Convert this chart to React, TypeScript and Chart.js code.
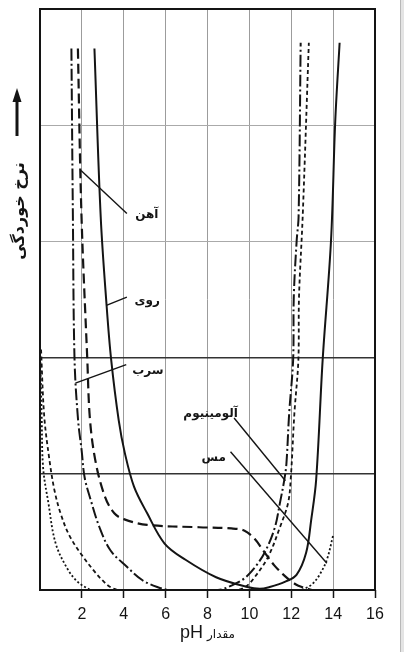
import React, { useEffect, useRef } from "react";
import { Chart, registerables } from "chart.js";

Chart.register(...registerables);

// pH axis ticks (0 is left unlabeled)
const phTicks = [0, 2, 4, 6, 8, 10, 12, 14, 16];

// corrosion rate curves (relative units, 0..5)
const zincPH = [2.6, 2.9, 3.18, 3.4, 3.76, 4.05, 4.49, 5.12, 5.95, 6.95, 8.41, 9.9, 10.5, 10.97, 11.69, 12.25, 12.71, 12.95, 13.19, 13.5, 13.9, 14.1, 14.31];
const zincRate = [4.66, 3.21, 2.45, 1.98, 1.46, 1.18, 0.89, 0.66, 0.4, 0.26, 0.11, 0.026, 0.01, 0.026, 0.07, 0.13, 0.32, 0.6, 0.95, 1.98, 3.01, 4.03, 4.71];

const ironPH = [1.81, 1.98, 2.26, 2.39, 2.67, 3.11, 3.55, 4.0, 5.12, 7.6, 9.14, 9.77, 10.25, 10.7, 11.2, 11.7, 12.2, 12.6, 13.0];
const ironRate = [4.66, 3.23, 1.98, 1.46, 1.09, 0.8, 0.66, 0.61, 0.56, 0.54, 0.53, 0.51, 0.44, 0.33, 0.21, 0.12, 0.05, 0.02, 0.0];

const leadPH = [1.5, 1.57, 1.65, 1.82, 1.99, 2.13, 2.43, 2.84, 3.37, 4.15, 4.88, 5.6, 6.2, 8.5, 9.17, 9.76, 10.29, 10.78, 11.22, 11.46, 11.67, 11.77, 11.9, 12.09, 12.12, 12.26, 12.35, 12.45];
const leadRate = [4.66, 3.23, 1.98, 1.46, 1.2, 0.97, 0.77, 0.54, 0.34, 0.2, 0.086, 0.026, 0.0, 0.0, 0.04, 0.1, 0.2, 0.34, 0.54, 0.75, 0.95, 1.09, 1.52, 1.98, 2.52, 3.01, 3.21, 4.71];

const alumPH = [0.05, 0.2, 0.45, 0.7, 1.0, 1.4, 2.0, 2.6, 3.0, 3.4, 3.8, 9.4, 9.8, 10.15, 10.88, 11.46, 11.85, 11.98, 12.15, 12.34, 12.37, 12.55, 12.84];
const alumRate = [2.07, 1.5, 1.12, 0.85, 0.65, 0.47, 0.3, 0.16, 0.08, 0.02, 0.0, 0.0, 0.026, 0.086, 0.28, 0.54, 0.75, 0.97, 1.52, 1.98, 2.52, 3.23, 4.71];

const copperPH = [0.0, 0.08, 0.15, 0.4, 0.75, 1.35, 1.8, 2.2, 2.5, 12.4, 12.7, 13.0, 13.35, 13.7, 14.0];
const copperRate = [2.07, 1.5, 1.05, 0.75, 0.4, 0.17, 0.07, 0.02, 0.0, 0.0, 0.017, 0.05, 0.13, 0.26, 0.47];

// curve labels and their leader lines (data units)
const labelNames = ["آهن", "روی", "سرب", "آلومینیوم", "مس"];
const labelPH = [5.1, 5.12, 5.15, 8.15, 8.3];
const labelRate = [3.23, 2.49, 1.89, 1.52, 1.14];
const leaderFromPH = [4.15, 4.15, 4.12, 9.27, 9.1];
const leaderFromRate = [3.24, 2.52, 1.94, 1.48, 1.19];
const leaderToPH = [1.96, 3.17, 1.69, 11.72, 13.7];
const leaderToRate = [3.61, 2.45, 1.78, 0.94, 0.23];

const xTitle = "مقدار";
const xUnit = "pH";
const yTitle = "نرخ خوردگی";

const INK = "#141414";
const FA = "'DejaVu Sans', sans-serif";

const toPoints = (xs: number[], ys: number[]) => xs.map((x, i) => ({ x, y: ys[i] }));

const App = () => {
    const canvasRef = useRef<HTMLCanvasElement>(null);

    useEffect(() => {
        const frame = {
            id: "frame",
            afterDatasetsDraw(chart: any) {
                const { ctx, chartArea: a } = chart;
                ctx.save();
                ctx.strokeStyle = INK;
                ctx.lineWidth = 2;
                ctx.strokeRect(a.left, a.top, a.right - a.left, a.bottom - a.top);
                ctx.restore();
            },
        };

        const leaders = {
            id: "leaders",
            afterDatasetsDraw(chart: any) {
                const { ctx } = chart;
                const xs = chart.scales.x;
                const ys = chart.scales.y;
                ctx.save();
                ctx.strokeStyle = INK;
                ctx.lineWidth = 1.4;
                labelNames.forEach((name, i) => {
                    ctx.beginPath();
                    ctx.moveTo(xs.getPixelForValue(leaderFromPH[i]), ys.getPixelForValue(leaderFromRate[i]));
                    ctx.lineTo(xs.getPixelForValue(leaderToPH[i]), ys.getPixelForValue(leaderToRate[i]));
                    ctx.stroke();
                    ctx.fillStyle = INK;
                    ctx.font = `bold 12px ${FA}`;
                    ctx.textAlign = "center";
                    ctx.textBaseline = "middle";
                    ctx.direction = "rtl";
                    ctx.fillText(name, xs.getPixelForValue(labelPH[i]), ys.getPixelForValue(labelRate[i]));
                });
                ctx.restore();
            },
        };

        const titles = {
            id: "titles",
            afterDraw(chart: any) {
                const { ctx, chartArea: a } = chart;
                ctx.save();
                ctx.fillStyle = INK;

                // x title: "مقدار pH"
                ctx.textBaseline = "alphabetic";
                ctx.textAlign = "left";
                ctx.font = "18px 'Liberation Sans', Arial, sans-serif";
                const wU = ctx.measureText(xUnit).width;
                ctx.font = `12px ${FA}`;
                ctx.direction = "rtl";
                const wT = ctx.measureText(xTitle).width;
                const gap = 4;
                const cx = (a.left + a.right) / 2;
                const base = a.bottom + 48;
                const x0 = cx - (wU + gap + wT) / 2;
                ctx.direction = "ltr";
                ctx.font = "18px 'Liberation Sans', Arial, sans-serif";
                ctx.fillText(xUnit, x0, base);
                ctx.direction = "rtl";
                ctx.textAlign = "right";
                ctx.font = `12px ${FA}`;
                ctx.fillText(xTitle, x0 + wU + gap + wT, base);

                // y title, rotated, with an upward arrow above it
                ctx.save();
                ctx.translate(20, a.top + 202);
                ctx.rotate(-Math.PI / 2);
                ctx.textAlign = "center";
                ctx.textBaseline = "middle";
                ctx.font = `bold 16px ${FA}`;
                ctx.direction = "rtl";
                ctx.fillText(yTitle, 0, 0);
                ctx.restore();

                const ax = 17;
                ctx.strokeStyle = INK;
                ctx.lineWidth = 3;
                ctx.beginPath();
                ctx.moveTo(ax, a.top + 127);
                ctx.lineTo(ax, a.top + 92);
                ctx.stroke();
                ctx.beginPath();
                ctx.moveTo(ax, a.top + 79);
                ctx.lineTo(ax - 4.5, a.top + 93);
                ctx.lineTo(ax + 4.5, a.top + 93);
                ctx.closePath();
                ctx.fill();
                ctx.restore();
            },
        };

        const line = (pts: any[], dash: number[], width: number) => ({
            data: pts,
            borderColor: INK,
            borderWidth: width,
            borderDash: dash,
            pointRadius: 0,
            fill: false,
            tension: 0.35,
        });

        const chart = new Chart(canvasRef.current as HTMLCanvasElement, {
            type: "line",
            data: {
                datasets: [
                    { label: "روی", ...line(toPoints(zincPH, zincRate), [], 2) },
                    { label: "آهن", ...line(toPoints(ironPH, ironRate), [10, 5], 2.2) },
                    { label: "سرب", ...line(toPoints(leadPH, leadRate), [12, 3, 2, 3], 2) },
                    { label: "آلومینیوم", ...line(toPoints(alumPH, alumRate), [4, 3], 1.8) },
                    { label: "مس", ...line(toPoints(copperPH, copperRate), [2, 2.2], 1.8) },
                ],
            },
            options: {
                responsive: true,
                maintainAspectRatio: false,
                animation: false,
                events: [],
                layout: { padding: { left: 40, right: 29, top: 9, bottom: 0 } },
                plugins: {
                    legend: { display: false },
                    tooltip: { enabled: false },
                },
                scales: {
                    x: {
                        type: "linear",
                        min: 0,
                        max: 16,
                        afterBuildTicks: (s: any) => {
                            s.ticks = phTicks.map((v) => ({ value: v }));
                        },
                        afterFit: (s: any) => {
                            s.height = 62;
                        },
                        ticks: {
                            autoSkip: false,
                            maxRotation: 0,
                            padding: 7,
                            color: INK,
                            font: { family: "'Liberation Sans', Arial, sans-serif", size: 16 },
                            callback: (v: any) => (v === 0 ? "" : String(v)),
                        },
                        grid: {
                            color: (c: any) => (c.tick && (c.tick.value === 0 || c.tick.value === 16) ? "rgba(0,0,0,0)" : "#9c9c9c"),
                            lineWidth: 1,
                            tickLength: 8,
                            tickWidth: 1.5,
                            tickColor: (c: any) => (c.tick && c.tick.value === 0 ? "rgba(0,0,0,0)" : INK),
                        },
                        border: { display: false },
                    },
                    y: {
                        type: "linear",
                        min: 0,
                        max: 5,
                        ticks: { display: false, stepSize: 1 },
                        afterFit: (s: any) => {
                            s.width = 0;
                        },
                        grid: {
                            drawTicks: false,
                            color: (c: any) => {
                                const v = c.tick ? c.tick.value : -1;
                                if (v === 1 || v === 2) return "#333";
                                if (v === 0 || v === 5) return "rgba(0,0,0,0)";
                                return "#aaaaaa";
                            },
                            lineWidth: (c: any) => (c.tick && (c.tick.value === 1 || c.tick.value === 2) ? 1.6 : 1),
                        },
                        border: { display: false },
                    },
                },
            },
            plugins: [frame, leaders, titles],
        });

        return () => {
            chart.destroy();
        };
    }, []);

    return (
        <div
            style={{
                position: "fixed",
                left: 0,
                top: 0,
                width: 404,
                height: 652,
                background: "#fff",
            }}
        >
            <canvas ref={canvasRef} />
            <div
                style={{
                    position: "absolute",
                    left: 400,
                    top: 0,
                    width: 4,
                    height: 652,
                    background: "#e4e4e4",
                    borderLeft: "1px solid #b8b8b8",
                    boxSizing: "border-box",
                }}
            />
        </div>
    );
};

export default App;
